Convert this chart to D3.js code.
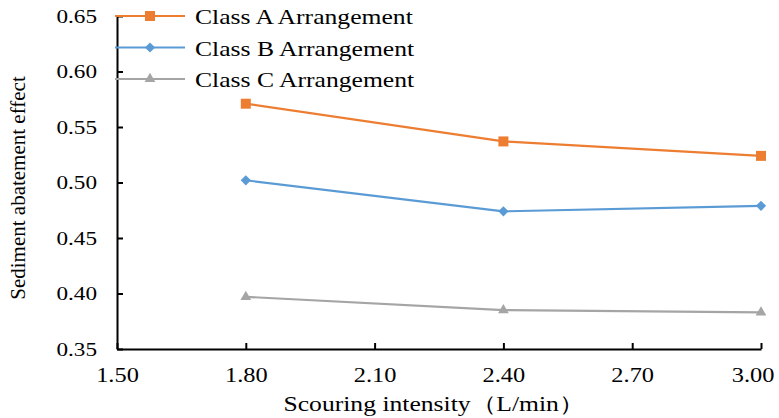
<!DOCTYPE html>
<html><head><meta charset="utf-8">
<script src="https://cdn.jsdelivr.net/npm/d3@7"></script>
<style>body{margin:0;background:#fff}svg{display:block}text{font-family:"Liberation Serif","Times New Roman",serif;fill:#000}</style>
</head><body><svg id="c" width="779" height="418"></svg>
<script>
const xValues = [1.80, 2.40, 3.00];
const seriesNames = ["Class A Arrangement", "Class B Arrangement", "Class C Arrangement"];
const classA = [0.571, 0.537, 0.524];
const classB = [0.502, 0.474, 0.479];
const classC = [0.397, 0.385, 0.383];
const xTicks = [1.50, 1.80, 2.10, 2.40, 2.70, 3.00];
const yTicks = [0.35, 0.40, 0.45, 0.50, 0.55, 0.60, 0.65];
const colors = ["#ED7D31", "#5B9BD5", "#A5A5A5"];

const STRETCH = 1.22;
const svg = d3.select("#c");
const m = {l:117, r:18, t:16, b:69};
const W = 779, H = 418;
const x = d3.scaleLinear().domain([1.5, 3.0]).range([m.l, W - m.r]);
const y = d3.scaleLinear().domain([0.35, 0.65]).range([H - m.b, m.t]);

const xa = svg.append("g").attr("transform", `translate(0,${H - m.b})`)
  .call(d3.axisBottom(x).tickValues(xTicks).tickFormat(d3.format(".2f")).tickSizeInner(-6).tickSizeOuter(0).tickPadding(19));
const ya = svg.append("g").attr("transform", `translate(${m.l},0)`)
  .call(d3.axisLeft(y).tickValues(yTicks).tickFormat(d3.format(".2f")).tickSizeInner(-6).tickSizeOuter(0).tickPadding(20));
[xa, ya].forEach(a => {
  a.selectAll("path.domain").attr("stroke", "#000").attr("stroke-width", 2);
  a.selectAll(".tick line").attr("stroke", "#000").attr("stroke-width", 2);
});
xa.selectAll("text").attr("font-size", 20);
ya.selectAll("text").attr("font-size", 19);
// last x label kept inside the picture
xa.selectAll(".tick:last-of-type text").attr("text-anchor", "end").attr("dx", 13);

function symbolPath(k) {
  if (k === 0) return d3.symbol().type(d3.symbolSquare).size(100)();
  if (k === 1) return d3.symbol().type(d3.symbolSquare).size(52)();
  return d3.symbol().type(d3.symbolTriangle).size(50)();
}
const rot = [0, 45, 0];

const data = [classA, classB, classC];
const line = d3.line().x((d, i) => x(xValues[i])).y(d => y(d));
data.forEach((s, k) => {
  svg.append("path").datum(s).attr("d", line).attr("fill", "none")
    .attr("stroke", colors[k]).attr("stroke-width", 2.2);
  svg.selectAll(null).data(s).enter().append("path")
    .attr("d", symbolPath(k))
    .attr("transform", (d, i) => `translate(${x(xValues[i])},${y(d)}) rotate(${rot[k]})`)
    .attr("fill", colors[k]);
});

// legend
const lg = svg.append("g");
seriesNames.forEach((n, k) => {
  const yy = 16 + k * 31.5;
  lg.append("rect").attr("x", 190).attr("y", yy - 14).attr("width", 232).attr("height", 28).attr("fill", "#fff");
  lg.append("line").attr("x1", 115).attr("x2", 185).attr("y1", yy).attr("y2", yy)
    .attr("stroke", colors[k]).attr("stroke-width", 2.2);
  lg.append("path").attr("d", symbolPath(k))
    .attr("transform", `translate(150,${yy}) rotate(${rot[k]})`).attr("fill", colors[k]);
  lg.append("text").attr("class", "h").attr("x", 195).attr("y", yy + 8).attr("font-size", 21).text(n);
});

svg.append("text").attr("transform", "translate(25,188) rotate(-90)")
  .attr("text-anchor", "middle").attr("font-size", 21).text("Sediment abatement effect");
svg.append("text").attr("class", "h").attr("x", 434).attr("y", 411).attr("text-anchor", "middle")
  .attr("font-size", 21).text("Scouring intensity（L/min）");

// horizontal stretch of the horizontal texts (the source picture is widened)
svg.selectAll("text.h, .tick text").each(function() {
  const w = this.getComputedTextLength();
  d3.select(this).attr("textLength", w * STRETCH).attr("lengthAdjust", "spacingAndGlyphs");
});
</script></body></html>
